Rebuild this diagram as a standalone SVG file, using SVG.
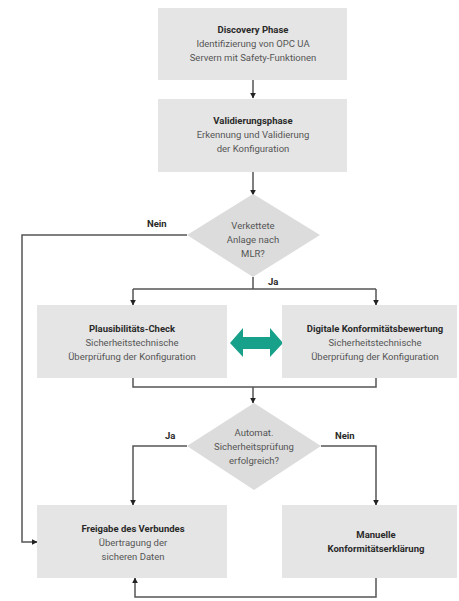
<svg xmlns="http://www.w3.org/2000/svg" width="459" height="601" viewBox="0 0 459 601">
<defs>
<style>
.box{fill:#e5e5e5;}
.dia{fill:#dcdcdc;}
.t{font-family:Roboto,"Liberation Sans",sans-serif;font-size:9.5px;text-anchor:middle;fill:#555;}
.b{font-weight:bold;fill:#2a2a2a;}
.lbl{font-family:Roboto,"Liberation Sans",sans-serif;font-size:9.5px;font-weight:bold;fill:#2a2a2a;}
.ln{fill:none;stroke:#555;stroke-width:1.5;}
</style>
<marker id="ah" viewBox="0 0 10 10" refX="9" refY="5" markerWidth="6" markerHeight="6" orient="auto" markerUnits="userSpaceOnUse">
<path d="M0,0 L10,5 L0,10 z" fill="#222"/>
</marker>
</defs>
<rect width="459" height="601" fill="#fff"/>
<g id="connectors">
<path class="ln" d="M253,80 V98" marker-end="url(#ah)"/>
<path class="ln" d="M253,172 V195" marker-end="url(#ah)"/>
<path class="ln" d="M187,235 H22 V542 H37" marker-end="url(#ah)"/>
<path class="ln" d="M253,277 V289"/>
<path class="ln" d="M133,289 H376"/>
<path class="ln" d="M133,289 V305" marker-end="url(#ah)"/>
<path class="ln" d="M376,289 V305" marker-end="url(#ah)"/>
<path class="ln" d="M133,378 V387 H376 V378"/>
<path class="ln" d="M253,387 V403" marker-end="url(#ah)"/>
<path class="ln" d="M187,446 H133 V505" marker-end="url(#ah)"/>
<path class="ln" d="M321,446 H376 V505" marker-end="url(#ah)"/>
<path class="ln" d="M376,578 V597 H135 V578" marker-end="url(#ah)"/>
<text class="lbl" x="147" y="227">Nein</text>
<text class="lbl" x="268" y="285">Ja</text>
<text class="lbl" x="165" y="439">Ja</text>
<text class="lbl" x="335" y="439">Nein</text>
</g>
<g id="discovery">
<rect class="box" x="158" y="8" width="189" height="72"/>
<text class="t b" x="253" y="33">Discovery Phase</text>
<text class="t" x="253" y="47">Identifizierung von OPC UA</text>
<text class="t" x="253" y="61">Servern mit Safety-Funktionen</text>
</g>
<g id="validierung">
<rect class="box" x="158" y="99" width="189" height="73"/>
<text class="t b" x="253" y="124">Validierungsphase</text>
<text class="t" x="253" y="138">Erkennung und Validierung</text>
<text class="t" x="253" y="152">der Konfiguration</text>
</g>
<g id="decision1">
<polygon class="dia" points="253,194 320,235 253,277 187,235"/>
<text class="t" x="253" y="229">Verkettete</text>
<text class="t" x="253" y="243">Anlage nach</text>
<text class="t" x="253" y="257">MLR?</text>
</g>
<g id="plausibilitaet">
<rect class="box" x="37" y="305" width="190" height="73"/>
<text class="t b" x="132" y="332">Plausibilitäts-Check</text>
<text class="t" x="132" y="346">Sicherheitstechnische</text>
<text class="t" x="132" y="360">Überprüfung der Konfiguration</text>
</g>
<g id="exchange">
<polygon fill="#17a08a" points="230,343 243,328 243,337 270,337 270,328 283,343 270,357 270,349 243,349 243,357"/>
</g>
<g id="digitale">
<rect class="box" x="282" y="305" width="175" height="73"/>
<text class="t b" x="375" y="332">Digitale Konformitätsbewertung</text>
<text class="t" x="375" y="346">Sicherheitstechnische</text>
<text class="t" x="375" y="360">Überprüfung der Konfiguration</text>
</g>
<g id="decision2">
<polygon class="dia" points="254,403 321,446 254,490 187,446"/>
<text class="t" x="254" y="436">Automat.</text>
<text class="t" x="254" y="450">Sicherheitsprüfung</text>
<text class="t" x="254" y="464">erfolgreich?</text>
</g>
<g id="freigabe">
<rect class="box" x="37" y="505" width="190" height="73"/>
<text class="t b" x="133" y="532">Freigabe des Verbundes</text>
<text class="t" x="133" y="546">Übertragung der</text>
<text class="t" x="133" y="560">sicheren Daten</text>
</g>
<g id="manuell">
<rect class="box" x="282" y="505" width="175" height="73"/>
<text class="t b" x="376" y="538">Manuelle</text>
<text class="t b" x="376" y="552">Konformitätserklärung</text>
</g>
</svg>
